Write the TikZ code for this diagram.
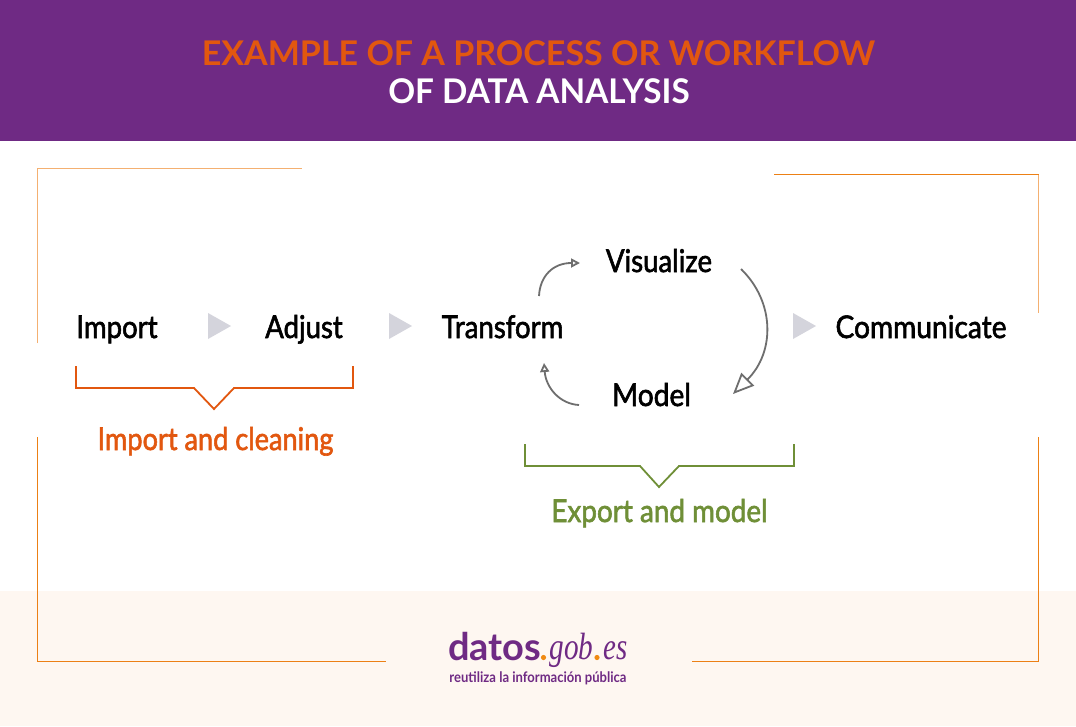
\documentclass[tikz,border=0pt]{standalone}
\usepackage{fontspec}
\setmainfont{Lato}
\newfontfamily\medfont[FakeBold=2]{Lato}
\newfontfamily\logoserif{Liberation Serif}
\usetikzlibrary{arrows.meta}
\definecolor{hdr}{HTML}{6F2A84}
\definecolor{ttl}{HTML}{E2570F}
\definecolor{foot}{HTML}{FEF7F1}
\definecolor{frameA}{HTML}{F4B071}
\definecolor{frameB}{HTML}{EC8015}
\definecolor{brO}{HTML}{E2570F}
\definecolor{brG}{HTML}{6F8F37}
\definecolor{tri}{HTML}{D4D4DC}
\definecolor{cyc}{HTML}{6E6E6E}
\definecolor{dotc}{HTML}{F08A12}
\tikzset{
  lbl/.style={inner sep=0pt,font=\fontsize{29}{32}\medfont,text=black,anchor=base},
  grp/.style={inner sep=0pt,font=\fontsize{29}{32}\medfont,anchor=base},
  ttlnode/.style={inner sep=0pt,font=\fontsize{34}{36}\selectfont\bfseries,anchor=base},
  sep/.style={fill=tri,draw=none},
  cycle/.style={draw=cyc,line width=1.8pt},
  brace/.style={line width=1.8pt,line join=miter},
  fr/.style={line width=1.05pt}
}
\begin{document}
\begin{tikzpicture}[x=1pt,y=-1pt]
\useasboundingbox (0,0) rectangle (1076,726);
\fill[white] (0,0) rectangle (1076,726);
\fill[hdr] (0,0) rectangle (1076,141);
\fill[foot] (0,591) rectangle (1076,726);
\node[ttlnode,text=ttl] (t1) at (538.5,65) {EXAMPLE OF A PROCESS OR WORKFLOW};
\node[ttlnode,text=white] (t2) at (539,103) {\scalebox{0.98}[1]{OF DATA ANALYSIS}};
% frame
\draw[fr,frameA] (37.5,343) -- (37.5,168.5) -- (302,168.5);
\draw[fr,frameB] (774,174.5) -- (1038.5,174.5);
\draw[fr,frameA] (1038.5,174.5) -- (1038.5,313);
\draw[fr,frameB] (37.5,437) -- (37.5,661.5) -- (386,661.5);
\draw[fr,frameB] (1038.5,437) -- (1038.5,661.5) -- (692,661.5);
% labels
\node[lbl] (imp) at (117,338) {\scalebox{0.95}[1.08]{Import}};
\node[lbl] (adj) at (304,338) {\scalebox{0.95}[1.08]{Adjust}};
\node[lbl] (tra) at (502.5,338) {\scalebox{0.95}[1.08]{Transform}};
\node[lbl] (vis) at (659,272) {\scalebox{0.95}[1.08]{Visualize}};
\node[lbl] (mod) at (651.5,406) {\scalebox{0.97}[1.08]{Model}};
\node[lbl] (com) at (921,338) {\scalebox{0.97}[1.08]{Communicate}};
% separators
\fill[sep] (208,313) -- (231,326) -- (208,339) -- cycle;
\fill[sep] (389,313) -- (412,326) -- (389,339) -- cycle;
\fill[sep] (793,313) -- (816,326) -- (793,339) -- cycle;
% cycle arrows
\coordinate (a1s) at (539,296);
\coordinate (a1e) at (580,263);
\coordinate (a2s) at (741,269);
\coordinate (a2e) at (733,394);
\coordinate (a3s) at (579,405);
\coordinate (a3e) at (544,363);
\draw[cycle,-{Triangle[open,length=9pt,width=9pt]}] (a1s) .. controls (540,276) and (553,263) .. (a1e);
\draw[cycle,-{Triangle[open,length=21pt,width=18pt]}] (a2s) .. controls (775,302) and (775,352) .. (a2e);
\draw[cycle,-{Triangle[open,length=9pt,width=9pt]}] (a3s) .. controls (560,404) and (546,388) .. (a3e);
% braces
\draw[brace,brO] (76,366) -- (76,388) -- (194,388) -- (214,409) -- (234,388) -- (353,388) -- (353,366);
\node[grp,text=brO] (g1) at (215.5,450) {\scalebox{0.936}[1.08]{Import and cleaning}};
\draw[brace,brG] (525,444) -- (525,466) -- (640,466) -- (659,487) -- (679,466) -- (794,466) -- (794,444);
\node[grp,text=brG] (g2) at (659.5,522) {\scalebox{0.96}[1.08]{Export and model}};
% logo
\node[inner sep=0pt,anchor=base west,font=\fontsize{38}{40}\selectfont\bfseries,text=hdr] (d1) at (448,660) {datos};
\node[inner sep=0pt,anchor=base west,text=hdr] (d2) at (549.5,659) {\fontsize{38}{40}\logoserif\itshape\scalebox{0.77}[1]{gob}};
\node[inner sep=0pt,anchor=base west,text=hdr] (d3) at (603,659) {\fontsize{38}{40}\logoserif\itshape\scalebox{0.76}[1]{es}};
\fill[dotc] (543.5,657.5) circle (2.6);
\fill[dotc] (597,657.5) circle (2.6);
\node[inner sep=0pt,anchor=base,font=\fontsize{14.5}{16}\selectfont\bfseries,text=hdr] (d4) at (538,682) {\scalebox{0.9}[1]{reutiliza la información pública}};
\end{tikzpicture}
\end{document}
